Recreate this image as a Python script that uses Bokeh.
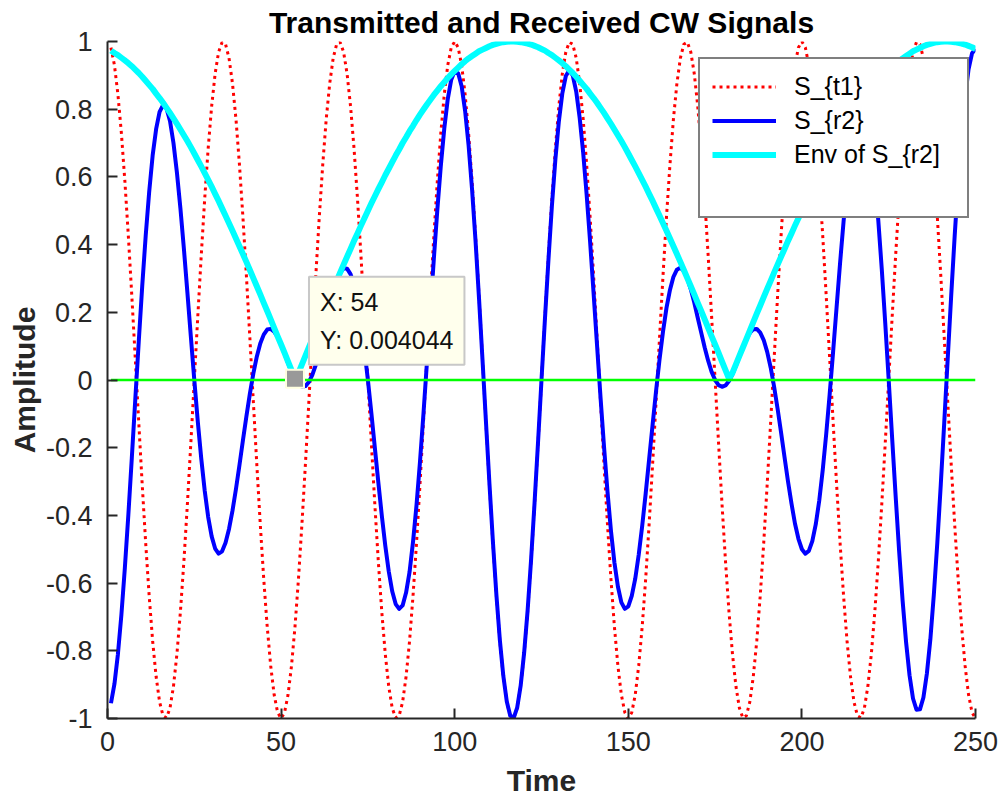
from bokeh.plotting import figure
from bokeh.models import (Range1d, FixedTicker, Legend, LegendItem, Label,
                          ColumnDataSource)
from bokeh.embed import file_html
from bokeh.resources import INLINE

# ---------------------------------------------------------------- data
time = list(range(1, 251))

# transmitted CW signal S_{t1}
s_t1 = [
    0.982, 0.930, 0.844, 0.729, 0.588, 0.426, 0.249, 0.063, -0.125, -0.309,
    -0.482, -0.637, -0.771, -0.876, -0.951, -0.992, -0.998, -0.969, -0.905, -0.809,
    -0.685, -0.536, -0.368, -0.187, 0.000, 0.187, 0.368, 0.536, 0.685, 0.809,
    0.905, 0.969, 0.998, 0.992, 0.951, 0.876, 0.771, 0.637, 0.482, 0.309,
    0.125, -0.063, -0.249, -0.426, -0.588, -0.729, -0.844, -0.930, -0.982, -1.000,
    -0.982, -0.930, -0.844, -0.729, -0.588, -0.426, -0.249, -0.063, 0.125, 0.309,
    0.482, 0.637, 0.771, 0.876, 0.951, 0.992, 0.998, 0.969, 0.905, 0.809,
    0.685, 0.536, 0.368, 0.187, 0.000, -0.187, -0.368, -0.536, -0.685, -0.809,
    -0.905, -0.969, -0.998, -0.992, -0.951, -0.876, -0.771, -0.637, -0.482, -0.309,
    -0.125, 0.063, 0.249, 0.426, 0.588, 0.729, 0.844, 0.930, 0.982, 1.000,
    0.982, 0.930, 0.844, 0.729, 0.588, 0.426, 0.249, 0.063, -0.125, -0.309,
    -0.482, -0.637, -0.771, -0.876, -0.951, -0.992, -0.998, -0.969, -0.905, -0.809,
    -0.685, -0.536, -0.368, -0.187, 0.000, 0.187, 0.368, 0.536, 0.685, 0.809,
    0.905, 0.969, 0.998, 0.992, 0.951, 0.876, 0.771, 0.637, 0.482, 0.309,
    0.125, -0.063, -0.249, -0.426, -0.588, -0.729, -0.844, -0.930, -0.982, -1.000,
    -0.982, -0.930, -0.844, -0.729, -0.588, -0.426, -0.249, -0.063, 0.125, 0.309,
    0.482, 0.637, 0.771, 0.876, 0.951, 0.992, 0.998, 0.969, 0.905, 0.809,
    0.685, 0.536, 0.368, 0.187, 0.000, -0.187, -0.368, -0.536, -0.685, -0.809,
    -0.905, -0.969, -0.998, -0.992, -0.951, -0.876, -0.771, -0.637, -0.482, -0.309,
    -0.125, 0.063, 0.249, 0.426, 0.588, 0.729, 0.844, 0.930, 0.982, 1.000,
    0.982, 0.930, 0.844, 0.729, 0.588, 0.426, 0.249, 0.063, -0.125, -0.309,
    -0.482, -0.637, -0.771, -0.876, -0.951, -0.992, -0.998, -0.969, -0.905, -0.809,
    -0.685, -0.536, -0.368, -0.187, 0.000, 0.187, 0.368, 0.536, 0.685, 0.809,
    0.905, 0.969, 0.998, 0.992, 0.951, 0.876, 0.771, 0.637, 0.482, 0.309,
    0.125, -0.063, -0.249, -0.426, -0.588, -0.729, -0.844, -0.930, -0.982, -1.000,
]

# received signal S_{r2}
s_r2 = [
    -0.955, -0.898, -0.810, -0.694, -0.555, -0.399, -0.231, -0.058, 0.113, 0.277,
    0.426, 0.555, 0.663, 0.741, 0.792, 0.812, 0.802, 0.765, 0.700, 0.612,
    0.507, 0.388, 0.260, 0.129, 0.000, -0.122, -0.232, -0.327, -0.405, -0.462,
    -0.498, -0.513, -0.506, -0.481, -0.440, -0.386, -0.322, -0.252, -0.179, -0.108,
    -0.041, 0.019, 0.069, 0.108, 0.134, 0.149, 0.151, 0.143, 0.127, 0.105,
    0.079, 0.050, 0.024, 0.003, -0.012, -0.020, -0.018, -0.006, 0.015, 0.045,
    0.082, 0.125, 0.170, 0.215, 0.256, 0.291, 0.316, 0.330, 0.329, 0.313,
    0.282, 0.232, 0.168, 0.089, 0.000, -0.098, -0.200, -0.302, -0.400, -0.489,
    -0.565, -0.624, -0.662, -0.676, -0.666, -0.628, -0.567, -0.478, -0.370, -0.242,
    -0.100, 0.051, 0.206, 0.359, 0.503, 0.633, 0.743, 0.830, 0.887, 0.913,
    0.906, 0.868, 0.795, 0.693, 0.563, 0.411, 0.242, 0.061, -0.123, -0.305,
    -0.477, -0.633, -0.768, -0.874, -0.950, -0.992, -0.998, -0.968, -0.903, -0.806,
    -0.681, -0.531, -0.363, -0.184, 0.000, 0.182, 0.355, 0.515, 0.652, 0.764,
    0.847, 0.898, 0.915, 0.900, 0.852, 0.774, 0.672, 0.548, 0.408, 0.257,
    0.102, -0.051, -0.196, -0.329, -0.445, -0.539, -0.610, -0.657, -0.676, -0.669,
    -0.638, -0.587, -0.516, -0.431, -0.336, -0.234, -0.132, -0.032, 0.061, 0.143,
    0.213, 0.266, 0.305, 0.326, 0.332, 0.322, 0.300, 0.268, 0.229, 0.184,
    0.140, 0.096, 0.057, 0.024, 0.000, -0.015, -0.020, -0.016, -0.003, 0.017,
    0.042, 0.069, 0.096, 0.120, 0.139, 0.150, 0.151, 0.140, 0.118, 0.083,
    0.037, -0.020, -0.085, -0.155, -0.228, -0.300, -0.365, -0.424, -0.469, -0.500,
    -0.513, -0.505, -0.476, -0.426, -0.356, -0.266, -0.160, -0.042, 0.085, 0.216,
    0.346, 0.468, 0.579, 0.673, 0.746, 0.793, 0.812, 0.802, 0.762, 0.692,
    0.595, 0.472, 0.328, 0.169, 0.000, -0.173, -0.343, -0.505, -0.651, -0.774,
    -0.872, -0.941, -0.974, -0.973, -0.938, -0.867, -0.766, -0.634, -0.481, -0.309,
    -0.125, 0.063, 0.249, 0.425, 0.586, 0.725, 0.836, 0.918, 0.965, 0.978,
]

# envelope of S_{r2}
env_r2 = [
    0.973, 0.966, 0.960, 0.952, 0.944, 0.936, 0.927, 0.917, 0.907, 0.896,
    0.884, 0.872, 0.860, 0.846, 0.833, 0.819, 0.804, 0.789, 0.773, 0.757,
    0.740, 0.723, 0.706, 0.688, 0.669, 0.650, 0.631, 0.611, 0.591, 0.571,
    0.550, 0.529, 0.507, 0.485, 0.463, 0.441, 0.418, 0.395, 0.372, 0.349,
    0.325, 0.301, 0.277, 0.253, 0.228, 0.204, 0.179, 0.154, 0.129, 0.105,
    0.080, 0.054, 0.029, 0.004, 0.021, 0.046, 0.071, 0.096, 0.121, 0.146,
    0.171, 0.196, 0.220, 0.245, 0.269, 0.293, 0.317, 0.341, 0.364, 0.387,
    0.411, 0.433, 0.456, 0.478, 0.500, 0.522, 0.543, 0.564, 0.584, 0.605,
    0.624, 0.644, 0.663, 0.681, 0.700, 0.717, 0.735, 0.751, 0.768, 0.784,
    0.799, 0.814, 0.828, 0.842, 0.855, 0.868, 0.880, 0.892, 0.903, 0.913,
    0.923, 0.933, 0.942, 0.950, 0.957, 0.964, 0.971, 0.976, 0.981, 0.986,
    0.990, 0.993, 0.996, 0.998, 0.999, 1.000, 1.000, 0.999, 0.998, 0.996,
    0.994, 0.991, 0.987, 0.983, 0.978, 0.973, 0.966, 0.960, 0.952, 0.944,
    0.936, 0.927, 0.917, 0.907, 0.896, 0.884, 0.872, 0.860, 0.846, 0.833,
    0.819, 0.804, 0.789, 0.773, 0.757, 0.740, 0.723, 0.706, 0.688, 0.669,
    0.650, 0.631, 0.611, 0.591, 0.571, 0.550, 0.529, 0.507, 0.485, 0.463,
    0.441, 0.418, 0.395, 0.372, 0.349, 0.325, 0.301, 0.277, 0.253, 0.228,
    0.204, 0.179, 0.154, 0.129, 0.105, 0.080, 0.054, 0.029, 0.004, 0.021,
    0.046, 0.071, 0.096, 0.121, 0.146, 0.171, 0.196, 0.220, 0.245, 0.269,
    0.293, 0.317, 0.341, 0.364, 0.387, 0.411, 0.433, 0.456, 0.478, 0.500,
    0.522, 0.543, 0.564, 0.584, 0.605, 0.624, 0.644, 0.663, 0.681, 0.700,
    0.717, 0.735, 0.751, 0.768, 0.784, 0.799, 0.814, 0.828, 0.842, 0.855,
    0.868, 0.880, 0.892, 0.903, 0.913, 0.923, 0.933, 0.942, 0.950, 0.957,
    0.964, 0.971, 0.976, 0.981, 0.986, 0.990, 0.993, 0.996, 0.998, 0.999,
    1.000, 1.000, 0.999, 0.998, 0.996, 0.994, 0.991, 0.987, 0.983, 0.978,
]

# zero reference level
zero_t = [1, 250]
zero_y = [0, 0]

# data cursor
tip_x = 54
tip_y = 0.004044

# axis ticks
x_ticks = [0, 50, 100, 150, 200, 250]
x_tick_labels = ["0", "50", "100", "150", "200", "250"]
y_ticks = [-1, -0.8, -0.6, -0.4, -0.2, 0, 0.2, 0.4, 0.6, 0.8, 1]
y_tick_labels = ["-1", "-0.8", "-0.6", "-0.4", "-0.2", "0",
                 "0.2", "0.4", "0.6", "0.8", "1"]

legend_labels = ["S_{t1}", "S_{r2}", "Env of S_{r2]"]

# ---------------------------------------------------------------- figure
FONT = "Liberation Sans"
AX_COLOR = "#262626"

p = figure(width=1000, height=805, output_backend="svg", toolbar_location=None,
           x_range=Range1d(0, 250), y_range=Range1d(-1, 1),
           min_border_left=107, min_border_right=25,
           min_border_top=41, min_border_bottom=87)
p.outline_line_color = None
p.grid.visible = False
p.background_fill_color = "white"
p.border_fill_color = "white"

p.title.text = "Transmitted and Received CW Signals"
p.title.align = "center"
p.title.text_font = FONT
p.title.text_font_size = "30px"
p.title.text_font_style = "bold"
p.title.text_color = "#000000"
p.title.standoff = 6

p.xaxis.ticker = FixedTicker(ticks=x_ticks)
p.yaxis.ticker = FixedTicker(ticks=y_ticks)
p.xaxis.major_label_overrides = dict(zip(x_ticks, x_tick_labels))
p.yaxis.major_label_overrides = dict(zip(y_ticks, y_tick_labels))
p.xaxis.axis_label = "Time"
p.yaxis.axis_label = "Amplitude"

for ax in p.axis:
    ax.axis_line_color = AX_COLOR
    ax.axis_line_width = 2
    ax.major_tick_line_color = AX_COLOR
    ax.major_tick_line_width = 2
    ax.major_tick_in = 10
    ax.major_tick_out = 0
    ax.minor_tick_in = 0
    ax.minor_tick_out = 0
    ax.major_label_text_font = FONT
    ax.major_label_text_font_size = "27px"
    ax.major_label_text_color = AX_COLOR
    ax.axis_label_text_font = FONT
    ax.axis_label_text_font_size = "30px"
    ax.axis_label_text_font_style = "bold"
    ax.axis_label_text_color = AX_COLOR

p.xaxis.major_label_standoff = 13
p.xaxis.axis_label_standoff = 10
p.yaxis.major_label_standoff = 15
p.yaxis.axis_label_standoff = 2

# ---------------------------------------------------------------- curves
src = ColumnDataSource(dict(t=time, s_t1=s_t1, s_r2=s_r2, env=env_r2))

r_t1 = p.line("t", "s_t1", source=src, line_color="#FF0000", line_width=3,
              line_dash="3 4")
r_r2 = p.line("t", "s_r2", source=src, line_color="#0000FF", line_width=4,
              line_join="round")
r_env = p.line("t", "env", source=src, line_color="#00FFFF", line_width=6,
               line_join="round")
p.line(zero_t, zero_y, line_color="#00FF00", line_width=2.5)

# data cursor marker and readout
p.scatter([tip_x], [tip_y], marker="square", size=18, fill_color="#999999",
          line_color="#FFFFE0", line_width=2)
tip = Label(x=tip_x, y=tip_y, x_offset=14, y_offset=14, anchor="bottom_left",
            text=f"X: {tip_x}\nY: {tip_y}", text_font=FONT,
            text_font_size="25px", text_color="#111111",
            text_line_height=1.35, padding=11,
            background_fill_color="#FFFFED", background_fill_alpha=1.0,
            border_line_color="#C8C8C8", border_line_width=2)
p.add_layout(tip)

# ---------------------------------------------------------------- legend
r_gap = p.line(x=[], y=[], line_alpha=0)
legend = Legend(items=[LegendItem(label=legend_labels[0], renderers=[r_t1]),
                       LegendItem(label=legend_labels[1], renderers=[r_r2]),
                       LegendItem(label=legend_labels[2], renderers=[r_env]),
                       LegendItem(label=" ", renderers=[r_gap])],
                location=(591, 500))
legend.label_text_font = FONT
legend.label_text_font_size = "25px"
legend.label_text_color = "#000000"
legend.glyph_width = 64
legend.glyph_height = 31
legend.label_height = 31
legend.label_width = 161
legend.label_standoff = 18
legend.spacing = 3
legend.padding = 12
legend.margin = 0
legend.border_line_color = "#000000"
legend.border_line_width = 2
legend.background_fill_color = "white"
legend.background_fill_alpha = 1.0
p.add_layout(legend)

open("out.html", "w").write(file_html(p, INLINE))
